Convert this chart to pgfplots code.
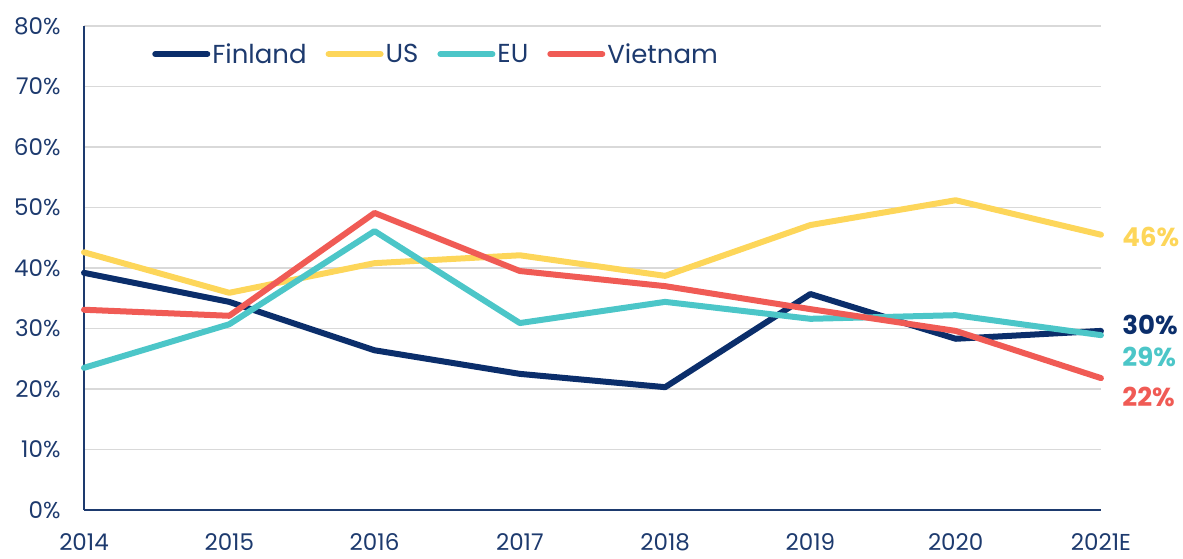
\documentclass[border=0pt]{standalone}
\usepackage{pgfplots}
\pgfplotsset{compat=1.18}
\usepackage{fontspec}
\setmainfont{Poppins}
\definecolor{fin}{HTML}{0B2E6B}
\definecolor{us}{HTML}{FDD65A}
\definecolor{eu}{HTML}{4CC6C8}
\definecolor{vn}{HTML}{F05B55}
\definecolor{txt}{HTML}{1D3A6E}
\definecolor{grd}{HTML}{D9D9D9}
\begin{document}
\begin{tikzpicture}
\useasboundingbox (-84pt,-49pt) rectangle (1099pt,510pt);
\begin{axis}[
  scale only axis, width=1017pt, height=484pt,
  anchor=south west, at={(0,0)},
  xmin=0, xmax=7, ymin=0, ymax=80,
  xtick={0,...,7},
  xticklabels={2014,2015,2016,2017,2018,2019,2020,2021E},
  ytick={0,10,...,80},
  yticklabel={\pgfmathprintnumber{\tick}\%},
  /pgf/number format/assume math mode=true,
  ticklabel style={font=\fontsize{23}{26}\selectfont, text=txt},
  xticklabel style={yshift=-20pt},
  yticklabel style={xshift=-20pt},
  major tick length=0pt,
  axis x line*=bottom, axis y line*=left,
  axis line style={draw=txt, line width=2pt, -},
  ymajorgrids, grid style={draw=grd, line width=1.5pt},
  clip=false,
  every axis plot/.append style={line width=6pt, line cap=round, line join=round},
  legend columns=4,
  legend style={draw=none, fill=none, at={(0.064,0.942)}, anchor=west,
    font=\fontsize{26}{30}\selectfont, text=txt,
    /tikz/every even column/.append style={column sep=17pt}},
  legend image code/.code={\draw[#1, line width=6pt, line cap=round] (0pt,0pt) -- (52pt,0pt);},
]
\addplot[fin] coordinates {(0,39.2) (1,34.4) (2,26.4) (3,22.5) (4,20.3) (5,35.7) (6,28.3) (7,29.6)};
\addlegendentry{Finland}
\addplot[us] coordinates {(0,42.6) (1,35.9) (2,40.8) (3,42.1) (4,38.7) (5,47.1) (6,51.2) (7,45.5)};
\addlegendentry{US}
\addplot[eu] coordinates {(0,23.5) (1,30.7) (2,46.1) (3,30.9) (4,34.4) (5,31.6) (6,32.2) (7,28.9)};
\addlegendentry{EU}
\addplot[vn] coordinates {(0,33.1) (1,32.1) (2,49.1) (3,39.5) (4,37.0) (5,33.2) (6,29.6) (7,21.8)};
\addlegendentry{Vietnam}
\node[anchor=west, text=us, font=\bfseries\fontsize{26}{30}\selectfont, xshift=18pt] at (axis cs:7,45.1) {46\%};
\node[anchor=west, text=fin, font=\bfseries\fontsize{26}{30}\selectfont, xshift=18pt] at (axis cs:7,30.6) {30\%};
\node[anchor=west, text=eu, font=\bfseries\fontsize{26}{30}\selectfont, xshift=18pt] at (axis cs:7,25.3) {29\%};
\node[anchor=west, text=vn, font=\bfseries\fontsize{26}{30}\selectfont, xshift=18pt] at (axis cs:7,18.7) {22\%};
\end{axis}
\end{tikzpicture}
\end{document}
